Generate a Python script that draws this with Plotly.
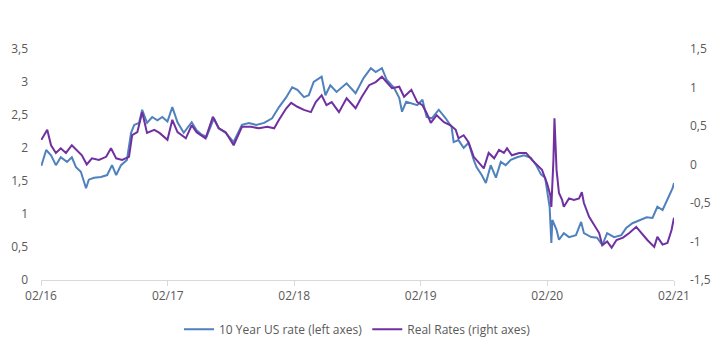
import plotly.graph_objects as go

us10_dates = ["2016-02-02","2016-02-16","2016-03-01","2016-03-15","2016-03-29","2016-04-16","2016-04-30","2016-05-12","2016-05-26","2016-06-10",
"2016-06-18","2016-07-03","2016-07-23","2016-08-10","2016-08-24","2016-09-05","2016-09-19","2016-10-06","2016-10-18","2016-10-27",
"2016-11-10","2016-11-19","2016-12-03","2016-12-18","2017-01-02","2017-01-16","2017-01-31","2017-02-14","2017-03-01","2017-03-19",
"2017-04-11","2017-04-25","2017-05-10","2017-05-24","2017-06-14","2017-06-28","2017-07-18","2017-08-10","2017-09-03","2017-09-23",
"2017-10-14","2017-11-06","2017-11-29","2017-12-19","2018-01-09","2018-01-26","2018-02-10","2018-03-01","2018-03-15","2018-03-29",
"2018-04-21","2018-05-02","2018-05-16","2018-06-03","2018-07-02","2018-07-28","2018-08-20","2018-09-10","2018-09-24","2018-10-12",
"2018-10-26","2018-11-16","2018-12-01","2018-12-09","2018-12-21","2019-01-05","2019-01-22","2019-02-06","2019-02-18","2019-03-05",
"2019-03-25","2019-04-14","2019-05-01","2019-05-07","2019-05-21","2019-06-05","2019-06-19","2019-07-04","2019-07-12","2019-07-27",
"2019-08-08","2019-08-22","2019-09-06","2019-09-20","2019-10-04","2019-10-19","2019-11-06","2019-11-26","2019-12-16","2019-12-31",
"2020-01-14","2020-01-26","2020-02-01","2020-02-08","2020-02-13","2020-02-16","2020-02-28","2020-03-06","2020-03-20","2020-04-04",
"2020-04-24","2020-05-09","2020-05-17","2020-06-07","2020-06-24","2020-07-09","2020-07-23","2020-08-12","2020-09-02","2020-09-16",
"2020-10-04","2020-10-24","2020-11-14","2020-12-01","2020-12-15","2020-12-30","2021-01-13","2021-01-28","2021-02-01"]
us10_values = [1.73,1.97,1.89,1.74,1.86,1.79,1.86,1.71,1.64,1.39,
1.52,1.55,1.56,1.59,1.74,1.59,1.74,1.82,2.23,2.35,
2.38,2.58,2.38,2.47,2.42,2.47,2.40,2.62,2.39,2.23,
2.39,2.27,2.20,2.17,2.45,2.30,2.23,2.09,2.35,2.38,
2.35,2.38,2.45,2.62,2.77,2.92,2.88,2.77,2.80,3.00,
3.08,2.80,2.95,2.85,2.98,2.83,3.06,3.21,3.15,3.21,
3.03,2.91,2.76,2.55,2.70,2.68,2.65,2.73,2.47,2.45,
2.58,2.45,2.32,2.09,2.12,2.00,2.08,1.82,1.71,1.59,
1.47,1.74,1.55,1.79,1.74,1.82,1.86,1.89,1.85,1.74,
1.60,1.55,1.36,1.11,0.56,0.91,0.76,0.61,0.71,0.65,
0.68,0.88,0.71,0.65,0.64,0.53,0.71,0.65,0.68,0.79,
0.86,0.91,0.95,0.94,1.11,1.06,1.21,1.39,1.47]

real_dates = ["2016-02-02","2016-02-19","2016-03-01","2016-03-15","2016-03-29","2016-04-13","2016-04-30","2016-05-14","2016-05-29","2016-06-12",
"2016-06-27","2016-07-17","2016-08-07","2016-08-21","2016-09-05","2016-09-22","2016-10-12","2016-10-21","2016-11-05","2016-11-19",
"2016-12-03","2016-12-24","2017-01-08","2017-01-31","2017-02-14","2017-03-01","2017-03-25","2017-04-11","2017-04-25","2017-05-21",
"2017-06-11","2017-06-28","2017-07-18","2017-08-10","2017-09-03","2017-09-29","2017-10-22","2017-11-15","2017-12-05","2017-12-19",
"2018-01-09","2018-01-23","2018-02-10","2018-03-01","2018-03-21","2018-04-04","2018-04-21","2018-05-05","2018-05-20","2018-06-10",
"2018-07-02","2018-07-28","2018-08-15","2018-09-05","2018-09-24","2018-10-12","2018-10-26","2018-11-10","2018-12-01","2018-12-15",
"2019-01-05","2019-01-22","2019-02-06","2019-02-18","2019-03-02","2019-03-19","2019-04-09","2019-04-28","2019-05-13","2019-05-21",
"2019-06-05","2019-06-19","2019-07-04","2019-07-18","2019-08-02","2019-08-16","2019-09-01","2019-09-15","2019-09-29","2019-10-08",
"2019-10-22","2019-11-12","2019-12-02","2019-12-19","2020-01-03","2020-01-17","2020-02-01","2020-02-10","2020-02-13","2020-02-19",
"2020-02-22","2020-02-28","2020-03-06","2020-03-15","2020-03-20","2020-04-04","2020-04-18","2020-05-03","2020-05-11","2020-05-17",
"2020-06-01","2020-06-15","2020-06-30","2020-07-09","2020-07-23","2020-08-05","2020-08-19","2020-09-07","2020-09-25","2020-10-15",
"2020-10-29","2020-11-16","2020-12-06","2020-12-15","2020-12-30","2021-01-13","2021-01-25","2021-02-01"]
real_values = [0.32,0.45,0.25,0.15,0.21,0.15,0.25,0.19,0.12,0.00,
0.08,0.06,0.10,0.21,0.08,0.06,0.10,0.38,0.42,0.68,
0.41,0.45,0.41,0.32,0.58,0.42,0.34,0.51,0.42,0.34,
0.62,0.47,0.42,0.25,0.49,0.49,0.47,0.49,0.47,0.58,
0.73,0.80,0.75,0.71,0.68,0.81,0.90,0.77,0.81,0.68,
0.86,0.73,0.88,1.03,1.07,1.14,1.07,0.99,1.01,0.88,
0.97,0.81,0.77,0.67,0.54,0.64,0.55,0.51,0.45,0.34,
0.38,0.29,0.10,0.03,-0.05,0.15,0.08,0.19,0.15,0.21,
0.12,0.15,0.15,0.06,-0.01,-0.07,-0.25,-0.40,-0.55,0.06,
0.60,-0.07,-0.37,-0.46,-0.55,-0.44,-0.46,-0.44,-0.36,-0.50,
-0.68,-0.79,-0.89,-1.05,-1.00,-1.08,-0.98,-0.95,-0.89,-0.81,
-0.89,-0.98,-1.07,-0.94,-1.04,-1.02,-0.85,-0.69]

left_ticks = [0, 0.5, 1, 1.5, 2, 2.5, 3, 3.5]
left_ticktext = ["0", "0,5", "1", "1,5", "2", "2,5", "3", "3,5"]
right_ticks = [-1.5, -1, -0.5, 0, 0.5, 1, 1.5]
right_ticktext = ["-1,5", "-1", "-0,5", "0", "0,5", "1", "1,5"]

fig = go.Figure()
fig.add_trace(go.Scatter(x=us10_dates, y=us10_values, mode="lines",
                         name="10 Year US rate (left axes)",
                         line=dict(color="#4F81BD", width=2), yaxis="y"))
fig.add_trace(go.Scatter(x=real_dates, y=real_values, mode="lines",
                         name="Real Rates (right axes)",
                         line=dict(color="#7030A0", width=2), yaxis="y2"))

font_family = "Open Sans, Liberation Sans, sans-serif"
fig.update_layout(
    width=718, height=356,
    margin=dict(l=33, r=52, t=41, b=84, autoexpand=False),
    paper_bgcolor="white", plot_bgcolor="white",
    font=dict(family=font_family, size=12, color="#595959"),
    showlegend=True,
    legend=dict(orientation="h", x=0.5, xanchor="center", y=-0.15, yanchor="top",
                font=dict(size=12, color="#595959"), itemwidth=30, tracegroupgap=0),
    xaxis=dict(type="date", range=["2016-02-01", "2021-02-01"], automargin=False,
               tick0="2016-02-01", dtick="M12", tickformat="%m/%y",
               showgrid=False, zeroline=False, showline=True, linecolor="#D9D9D9", linewidth=1,
               ticks="outside", ticklen=5, tickcolor="#D9D9D9"),
    yaxis=dict(range=[0, 3.5], tickvals=left_ticks, ticktext=left_ticktext, automargin=False,
               showgrid=False, zeroline=False, showline=False, ticks="",
               ticklabelstandoff=12),
    yaxis2=dict(range=[-1.5, 1.5], tickvals=right_ticks, ticktext=right_ticktext, automargin=False,
                overlaying="y", side="right", showgrid=False, zeroline=False,
                showline=False, ticks="", ticklabelstandoff=15),
)

fig.write_html("out.html")
